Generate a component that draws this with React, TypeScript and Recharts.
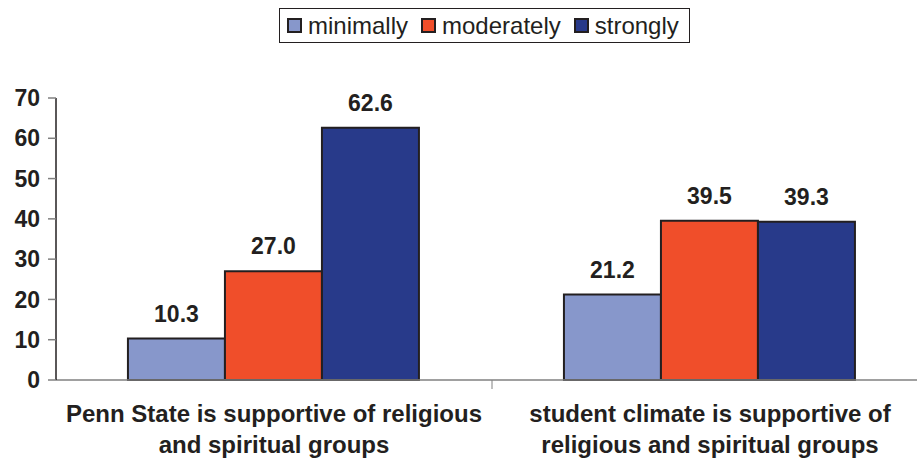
import { Bar, ComposedChart, XAxis, YAxis, LabelList } from 'recharts';

const categories = [
  'Penn State is supportive of religious\nand spiritual groups',
  'student climate is supportive of\nreligious and spiritual groups',
];
const minimally = [10.3, 21.2];
const moderately = [27.0, 39.5];
const strongly = [62.6, 39.3];
const yTicks = [0, 10, 20, 30, 40, 50, 60, 70];

const seriesInfo = [
  { key: 'minimally', color: '#8797CB' },
  { key: 'moderately', color: '#F04E2A' },
  { key: 'strongly', color: '#283A8A' },
];

const data = categories.map((name, i) => ({
  name,
  minimally: minimally[i],
  moderately: moderately[i],
  strongly: strongly[i],
}));

const FONT = "'Liberation Sans', Arial, sans-serif";
const W = 940;
const H = 458;
const LEFT = 56;
const RIGHT = 12;
const bandW = (W - LEFT - RIGHT) / categories.length;

function CategoryTick(props: any) {
  const { x, y, payload, index } = props;
  const lines = String(payload.value).split('\n');
  return (
    <g>
      {index < categories.length - 1 && (
        <line x1={x + bandW / 2} x2={x + bandW / 2} y1={y - 8} y2={y + 1} stroke="#808080" strokeWidth={1} />
      )}
      <text x={x} y={y} textAnchor="middle" fontFamily={FONT} fontWeight="bold" fontSize={24} fill="#231F20">
        {lines.map((l, i) => (
          <tspan key={i} x={x} dy={i === 0 ? 34 : 31}>{l}</tspan>
        ))}
      </text>
    </g>
  );
}

function LegendBox() {
  return (
    <div style={{ position: 'absolute', left: 279, top: 8, height: 33, display: 'flex', alignItems: 'center', border: '1.5px solid #231F20', padding: '0 10px 0 7px', background: '#fff', fontFamily: FONT, fontSize: 24, color: '#231F20', lineHeight: '26px' }}>
      {seriesInfo.map((s, i) => (
        <span key={s.key} style={{ display: 'inline-flex', alignItems: 'center', marginLeft: i ? 13 : 0 }}>
          <span style={{ display: 'inline-block', width: 11, height: 11, background: s.color, border: '2px solid #231F20', marginRight: 6 }} />
          {s.key}
        </span>
      ))}
    </div>
  );
}

export default function App() {
  return (
    <div style={{ position: 'absolute', left: 0, top: 0, width: 917, height: H, overflow: 'hidden', background: '#fff' }}>
      <ComposedChart width={W} height={H} data={data} margin={{ top: 98, right: RIGHT, bottom: 0, left: 0 }} barCategoryGap="16.5%" barGap={0}>
        <XAxis dataKey="name" tick={<CategoryTick />} tickLine={false} axisLine={{ stroke: '#808080', strokeWidth: 1.5 }} interval={0} height={78} />
        <YAxis
          width={LEFT}
          domain={[0, 70]}
          ticks={yTicks}
          interval={0}
          axisLine={{ stroke: '#231F20', strokeWidth: 1.5 }}
          tickLine={{ stroke: '#808080', strokeWidth: 1.5 }}
          tickSize={8}
          tickMargin={8}
          tick={{ fontFamily: FONT, fontWeight: 'bold', fontSize: 23, fill: '#231F20' }}
        />
        {seriesInfo.map((s) => (
          <Bar key={s.key} dataKey={s.key} fill={s.color} stroke="#231F20" strokeWidth={2} isAnimationActive={false}>
            <LabelList dataKey={s.key} position="top" offset={17} formatter={(v: any) => Number(v).toFixed(1)} style={{ fontFamily: FONT, fontWeight: 'bold', fontSize: 23, fill: '#231F20' }} />
          </Bar>
        ))}
      </ComposedChart>
      <LegendBox />
    </div>
  );
}
